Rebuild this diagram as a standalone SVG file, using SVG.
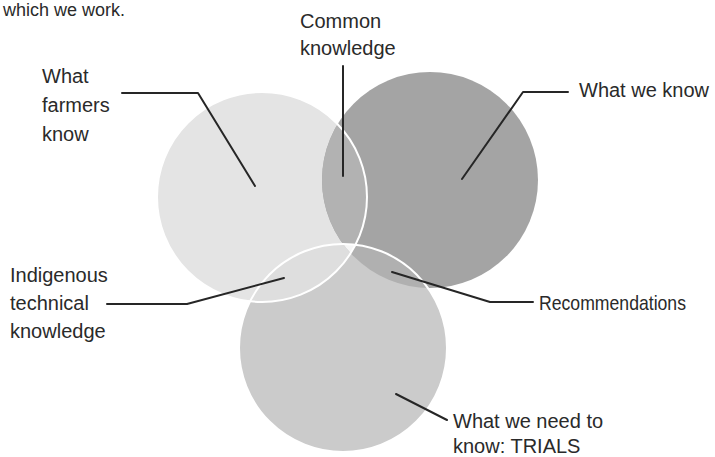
<svg xmlns="http://www.w3.org/2000/svg" width="715" height="457" viewBox="0 0 715 457">
<style>
  text { font-family: "Liberation Sans", Arial, sans-serif; font-size: 20px; fill: #2a2a2a; }
  .lead { fill: none; stroke: #262626; stroke-width: 2; stroke-linecap: round; stroke-linejoin: round; }
  .outline { fill: none; stroke: #ffffff; stroke-width: 2; }
</style>
<defs>
  <clipPath id="cL"><circle cx="262" cy="197" r="105"/></clipPath>
  <clipPath id="cR"><circle cx="430" cy="180" r="108"/></clipPath>
  <clipPath id="cB"><circle cx="343" cy="348" r="104"/></clipPath>
</defs>
<rect width="715" height="457" fill="#ffffff"/>
<text x="3" y="16" style="font-size:18px">which we work.</text>

<g id="circles">
  <g id="circle-farmers"><circle cx="262" cy="197" r="105" fill="#e4e4e4"/></g>
  <g id="circle-weknow"><circle cx="430" cy="180" r="108" fill="#a4a4a4"/></g>
  <g id="circle-trials"><circle cx="343" cy="348" r="104" fill="#cbcbcb"/></g>
  <g id="overlap-common"><circle cx="262" cy="197" r="105" fill="#b2b2b2" clip-path="url(#cR)"/></g>
  <g id="overlap-itk"><circle cx="262" cy="197" r="105" fill="#dedede" clip-path="url(#cB)"/></g>
  <g id="overlap-recs"><circle cx="430" cy="180" r="108" fill="#b0b0b0" clip-path="url(#cB)"/></g>
  <g id="overlap-triple" clip-path="url(#cR)"><circle cx="262" cy="197" r="105" fill="#f6f6f6" clip-path="url(#cB)"/></g>
  <circle class="outline" cx="262" cy="197" r="105"/>
  <circle class="outline" cx="343" cy="348" r="104"/>
</g>

<g id="connectors">
  <polyline class="lead" points="122,93 198,93 255,186"/>
  <line class="lead" x1="343" y1="66" x2="343" y2="176"/>
  <polyline class="lead" points="568,92 523,92 462,179"/>
  <polyline class="lead" points="107,304 187,304 284,278"/>
  <polyline class="lead" points="392,272 490,302 533,302"/>
  <line class="lead" x1="396" y1="394" x2="447" y2="420"/>
</g>

<g id="label-farmers">
  <text x="42" y="83">What</text>
  <text x="42" y="112">farmers</text>
  <text x="42" y="141">know</text>
</g>
<g id="label-common">
  <text x="300" y="28">Common</text>
  <text x="300" y="55">knowledge</text>
</g>
<g id="label-weknow">
  <text x="579" y="97">What we know</text>
</g>
<g id="label-itk">
  <text x="10" y="282">Indigenous</text>
  <text x="10" y="310">technical</text>
  <text x="10" y="338">knowledge</text>
</g>
<g id="label-recs">
  <text x="539" y="310" style="font-size:21px" textLength="147" lengthAdjust="spacingAndGlyphs">Recommendations</text>
</g>
<g id="label-trials">
  <text x="453" y="428">What we need to</text>
  <text x="453" y="453">know: TRIALS</text>
</g>
</svg>
